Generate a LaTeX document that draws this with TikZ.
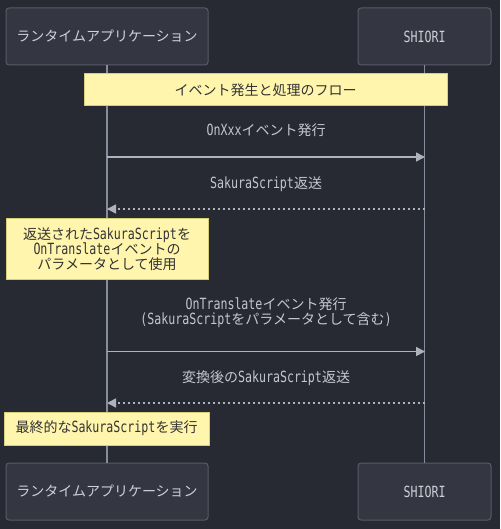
\documentclass[tikz,border=0pt]{standalone}
\usepackage{fontspec}
\setmainfont{Noto Sans CJK JP}
\newfontfamily\latmono[FakeStretch=0.755,Scale=1.1]{DejaVu Sans Mono}
\newcommand{\lt}[1]{{\latmono #1}}
\usetikzlibrary{arrows.meta}
\definecolor{bg}{HTML}{282A33}
\definecolor{boxfill}{HTML}{343741}
\definecolor{boxdraw}{HTML}{585B68}
\definecolor{actortext}{HTML}{CDD0D8}
\definecolor{lifeline}{HTML}{878C9C}
\definecolor{msgtext}{HTML}{C3C7D0}
\definecolor{arrowc}{HTML}{AEB2BD}
\definecolor{notefill}{HTML}{FFF5AD}
\definecolor{notedraw}{HTML}{D6CF7A}
\definecolor{notetext}{HTML}{333333}
\tikzset{
  actorbox/.style={draw=boxdraw, fill=boxfill, line width=1pt, rounded corners=3pt, inner sep=0pt, text=actortext, font=\fontsize{14}{15}\selectfont},
  notebox/.style={draw=notedraw, fill=notefill, line width=1pt, inner sep=0pt, text=notetext, align=center, font=\fontsize{14}{15}\selectfont},
  msglabel/.style={text=msgtext, align=center, inner sep=0pt, font=\fontsize{14}{15}\selectfont},
  lifelinestyle/.style={draw=lifeline, line width=1.5pt},
  solidmsg/.style={draw=arrowc, line width=1.5pt, -{Triangle[length=9pt,width=9pt]}},
  dashmsg/.style={draw=arrowc, line width=1.5pt, dash pattern=on 2.5pt off 2.5pt, -{Triangle[length=9pt,width=9pt]}}
}
\begin{document}
\begin{tikzpicture}[x=1pt,y=-1pt]
\fill[bg] (0,0) rectangle (500,529);
\useasboundingbox (0,0) rectangle (500,529);
% actors
\node[actorbox, minimum width=202pt, minimum height=57pt] (appT) at (107,36.5) {ランタイムアプリケーション};
\node[actorbox, minimum width=133pt, minimum height=57pt] (shT) at (424.5,36.5) {\lt{SHIORI}};
\node[actorbox, minimum width=202pt, minimum height=57pt] (appB) at (107,491.5) {ランタイムアプリケーション};
\node[actorbox, minimum width=133pt, minimum height=57pt] (shB) at (424.5,491.5) {\lt{SHIORI}};
% lifelines
\draw[lifelinestyle] (appT.south) -- (appB.north);
\draw[lifelinestyle] (shT.south) -- (shB.north);
% lifeline coordinates
\coordinate (a1) at (107,157);
\coordinate (s1) at (425,157);
\coordinate (a2) at (107,209);
\coordinate (s2) at (425,209);
\coordinate (a3) at (107,351.5);
\coordinate (s3) at (425,351.5);
\coordinate (a4) at (107,403);
\coordinate (s4) at (425,403);
% note 1
\node[notebox, minimum width=363pt, minimum height=32pt] (n1) at (265.5,90) {イベント発生と処理のフロー};
% messages
\node[msglabel] (m1) at (266,130) {\lt{OnXxx}イベント発行};
\draw[solidmsg] (a1) -- (s1);
\node[msglabel] (m2) at (266,184) {\lt{SakuraScript}返送};
\draw[dashmsg] (s2) -- (a2);
\node[notebox, minimum width=202pt, minimum height=61pt] (n2) at (107,249) {返送された\lt{SakuraScript}を\\\lt{OnTranslate}イベントの\\パラメータとして使用};
\node[msglabel] (m3) at (266,312.5) {\lt{OnTranslate}イベント発行\\\lt{(SakuraScript}をパラメータとして含む\lt{)}};
\draw[solidmsg] (a3) -- (s3);
\node[msglabel] (m4) at (266,378) {変換後の\lt{SakuraScript}返送};
\draw[dashmsg] (s4) -- (a4);
\node[notebox, minimum width=205pt, minimum height=33pt] (n3) at (106.5,428.5) {最終的な\lt{SakuraScript}を実行};
\end{tikzpicture}
\end{document}
